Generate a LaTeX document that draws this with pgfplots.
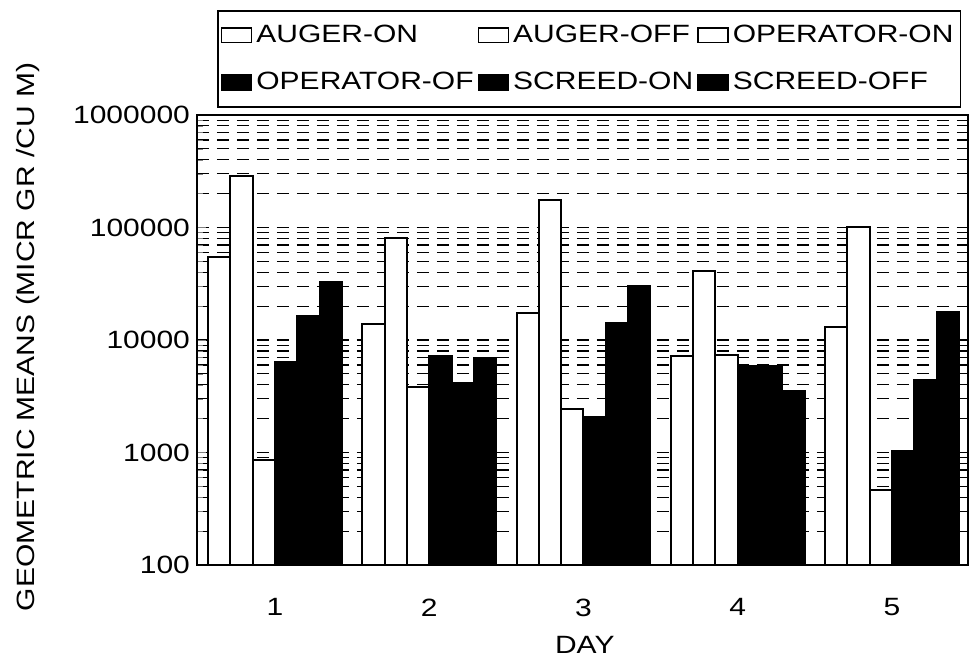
\documentclass[border=0pt]{standalone}
\usepackage{fontspec}
\setmainfont{Liberation Sans}[FakeStretch=1.2]
\usepackage{pgfplots}
\pgfplotsset{compat=1.18}
\begin{document}
\begin{tikzpicture}
\useasboundingbox (-98.5pt,-50pt) rectangle (387pt,282.5pt);
\begin{axis}[
  at={(0pt,0pt)}, anchor=south west,
  scale only axis, width=385.5pt, height=225pt,
  font=\fontsize{12.5}{15}\selectfont,
  ymode=log, log basis y=10, ymin=100, ymax=1000000, log origin y=infty,
  log ticks with fixed point,
  /pgf/number format/1000 sep={},
  /pgf/number format/assume math mode=true,
  xmin=0.494, xmax=5.493,
  xtick={1,2,3,4,5},
  xtick style={draw=none},
  xticklabel style={yshift=-9pt},
  ytick pos=left,
  ymajorgrids, yminorgrids,
  major grid style={dash pattern=on 6pt off 4pt, line width=0.6pt, black},
  minor grid style={dash pattern=on 6pt off 4pt, line width=0.6pt, black},
  axis line style={line width=1pt},
  ybar=0pt, bar width=11.15pt,
  xlabel={DAY}, ylabel={GEOMETRIC MEANS (MICR GR /CU M)},
  xlabel style={at={(axis description cs:0.503,-0.178)}, anchor=center},
  ylabel style={at={(axis description cs:-0.219,0.507)}, anchor=center},
  legend columns=3,
  legend style={at={(axis description cs:0.026,1.233)}, anchor=north west,
    draw=black, line width=0.75pt, row sep=9.5pt, inner xsep=1.5pt, inner ysep=5pt,
    /tikz/every even column/.append style={column sep=0pt}},
  legend cell align=left,
  every axis plot post/.append style={
    legend image code/.code={\draw[##1, line width=0.8pt] (0pt,-3.7pt) rectangle (15pt,3.7pt);}},
]
\addplot[fill=white, draw=black, line width=1pt] coordinates {(1,54300) (2,13900) (3,17300) (4,7200) (5,12970)};
\addplot[fill=white, draw=black, line width=1pt] coordinates {(1,287000) (2,81000) (3,175000) (4,41000) (5,100500)};
\addplot[fill=white, draw=black, line width=1pt] coordinates {(1,858) (2,3800) (3,2420) (4,7360) (5,464)};
\addplot[fill=black, draw=black, line width=1pt] coordinates {(1,6410) (2,7200) (3,2080) (4,5900) (5,1040)};
\addplot[fill=black, draw=black, line width=1pt] coordinates {(1,16400) (2,4120) (3,14100) (4,5900) (5,4400)};
\addplot[fill=black, draw=black, line width=1pt] coordinates {(1,32600) (2,6870) (3,30200) (4,3540) (5,17700)};
\legend{AUGER-ON, AUGER-OFF, OPERATOR-ON, OPERATOR-OF, SCREED-ON, SCREED-OFF}
\end{axis}
\end{tikzpicture}
\end{document}
